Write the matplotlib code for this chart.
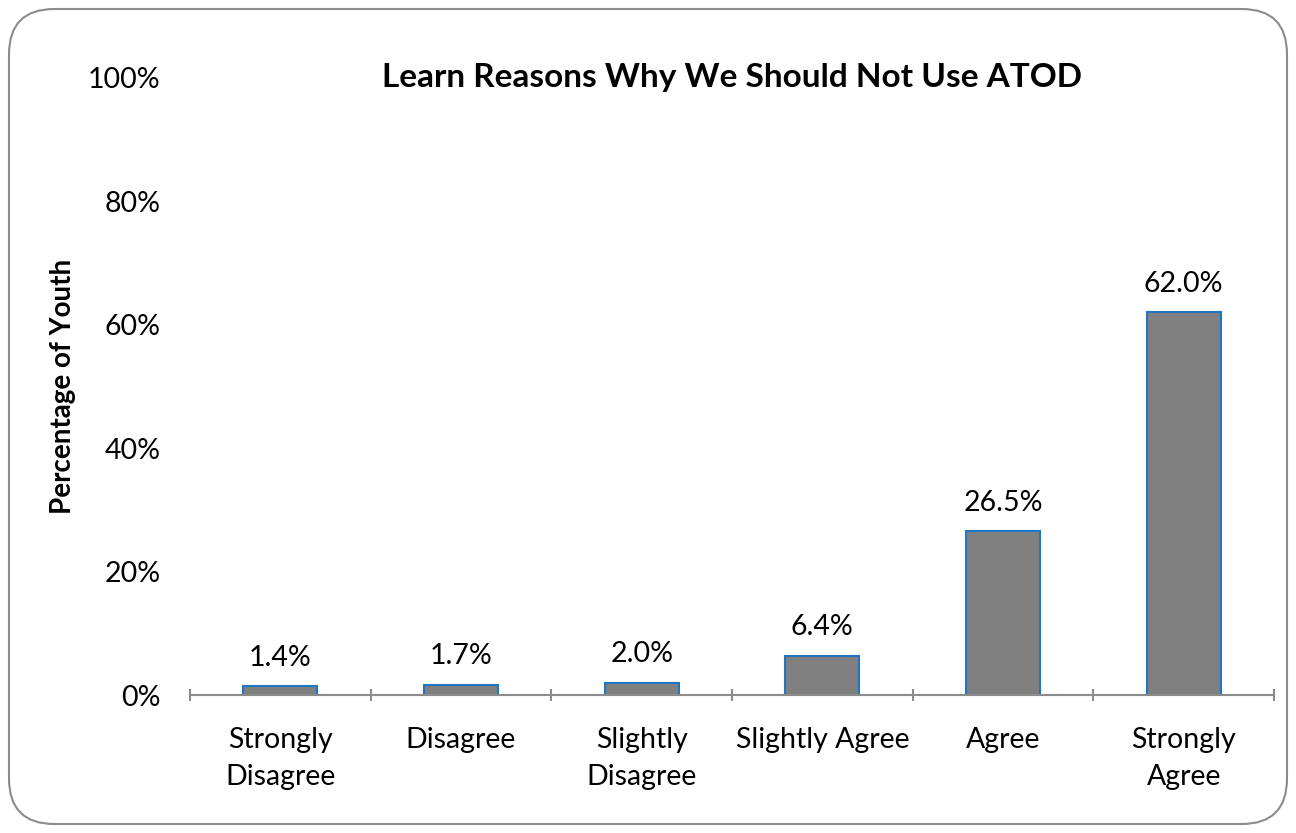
import matplotlib.pyplot as plt
from matplotlib.patches import FancyBboxPatch
from matplotlib.ticker import PercentFormatter

plt.rcParams['font.family'] = ['Lato', 'DejaVu Sans']

# survey answers and share of youth (%)
categories = ['Strongly\nDisagree', 'Disagree', 'Slightly\nDisagree',
              'Slightly Agree', 'Agree', 'Strongly\nAgree']
values = [1.4, 1.7, 2.0, 6.4, 26.5, 62.0]

fig = plt.figure(figsize=(12.96, 8.33), dpi=100)
ax = fig.add_axes([190 / 1296, 138 / 833, 1084 / 1296, 617 / 833])

# rounded chart border
frame = FancyBboxPatch((9 / 1296, 9 / 833), 1278 / 1296, 815 / 833,
                       boxstyle='round,pad=0,rounding_size=0.035',
                       transform=fig.transFigure, facecolor='white',
                       edgecolor='#8c8c8c', linewidth=1.5, zorder=-10,
                       mutation_aspect=1296 / 833)
fig.patches.append(frame)

x = range(len(categories))
ax.bar(x, values, width=0.41, color='#808080', edgecolor='#1f77c4',
       linewidth=1.5, zorder=3)

for xi, v in zip(x, values):
    ax.annotate(f'{v:.1f}%', (xi, v), xytext=(0, 11), textcoords='offset points',
                ha='center', va='bottom', fontsize=20.5)

ax.set_xlim(-0.5, len(categories) - 0.5)
ax.set_ylim(0, 100)
ax.set_yticks([0, 20, 40, 60, 80, 100])
ax.yaxis.set_major_formatter(PercentFormatter(decimals=0))
ax.tick_params(axis='y', length=0, labelsize=20.5, pad=21)

ax.set_xticks(list(x))
ax.set_xticklabels(categories, fontsize=20.5, linespacing=1.55)
ax.tick_params(axis='x', length=0, pad=23)
# boundary tick marks crossing the axis
ax.set_xticks([i - 0.5 for i in range(len(categories) + 1)], minor=True)
ax.tick_params(axis='x', which='minor', length=9, direction='inout',
               color='#8c8c8c', width=1.5)

for s in ['left', 'right', 'top']:
    ax.spines[s].set_visible(False)
ax.spines['bottom'].set_color('#8c8c8c')
ax.spines['bottom'].set_linewidth(1.5)
ax.spines['bottom'].set_zorder(4)

ax.set_ylabel('Percentage of Youth', fontsize=20, fontweight='bold', labelpad=9)
ax.text(0.5, 1.0, 'Learn Reasons Why We Should Not Use ATOD',
        transform=ax.transAxes, ha='center', va='center',
        fontsize=24, fontweight='bold')

fig.savefig('out.png', dpi=100)
